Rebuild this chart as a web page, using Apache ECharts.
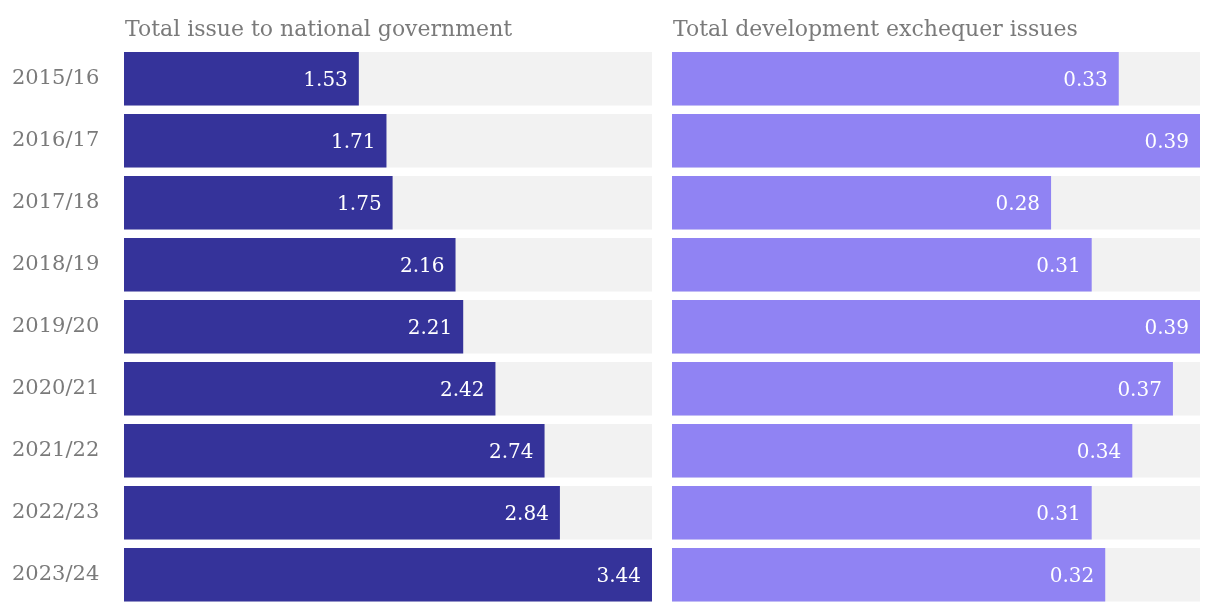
<!DOCTYPE html>
<html>
<head>
<meta charset="utf-8">
<script src="https://cdn.jsdelivr.net/npm/echarts@6/dist/echarts.min.js"></script>
<style>
html,body{margin:0;padding:0;background:#fff;}
#chart{width:1220px;height:612px;}
</style>
</head>
<body>
<div id="chart"></div>
<script>
const years = ["2015/16","2016/17","2017/18","2018/19","2019/20","2020/21","2021/22","2022/23","2023/24"];
const nationalIssue = [1.53,1.71,1.75,2.16,2.21,2.42,2.74,2.84,3.44];
const developmentIssue = [0.33,0.39,0.28,0.31,0.39,0.37,0.34,0.31,0.32];
const titles = ["Total issue to national government","Total development exchequer issues"];

const FONT = "'DejaVu Serif', serif";
const chart = echarts.init(document.getElementById('chart'), null, {renderer:'canvas'});

function labelCfg(){
  return {show:true, position:'insideRight', distance:11, offset:[0,2], color:'#fff', fontFamily:FONT, fontSize:20,
          formatter: p => p.value.toFixed(2)};
}

chart.setOption({
  animation:false,
  title:[
    {text:titles[0], left:120, top:14, textStyle:{color:'#7a7a7a', fontFamily:FONT, fontSize:22, fontWeight:'normal'}},
    {text:titles[1], left:668, top:14, textStyle:{color:'#7a7a7a', fontFamily:FONT, fontSize:22, fontWeight:'normal'}}
  ],
  grid:[
    {left:124, width:528, top:47.75, height:558},
    {left:672, width:528, top:47.75, height:558}
  ],
  xAxis:[
    {type:'value', gridIndex:0, min:0, max:3.44, show:false},
    {type:'value', gridIndex:1, min:0, max:0.39, show:false}
  ],
  yAxis:[
    {type:'category', gridIndex:0, data:years, inverse:true,
     axisLine:{show:false}, axisTick:{show:false},
     axisLabel:{align:'left', margin:112, padding:[4,0,0,0], color:'#7a7a7a', fontFamily:FONT, fontSize:21}},
    {type:'category', gridIndex:1, data:years, inverse:true, show:false}
  ],
  series:[
    {type:'bar', xAxisIndex:0, yAxisIndex:0, data:nationalIssue, barCategoryGap:'13.7%',
     itemStyle:{color:'#35339a'}, showBackground:true, backgroundStyle:{color:'#f2f2f2'},
     label:labelCfg()},
    {type:'bar', xAxisIndex:1, yAxisIndex:1, data:developmentIssue, barCategoryGap:'13.7%',
     itemStyle:{color:'#9083f3'}, showBackground:true, backgroundStyle:{color:'#f2f2f2'},
     label:labelCfg()}
  ]
});
</script>
</body>
</html>
